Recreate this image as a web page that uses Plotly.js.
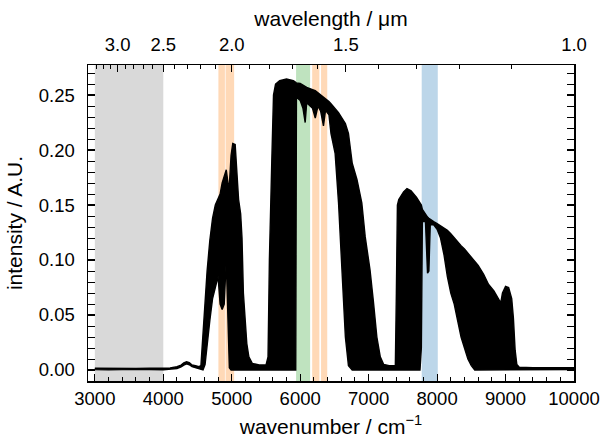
<!DOCTYPE html>
<html>
<head>
<meta charset="utf-8">
<script src="https://cdn.plot.ly/plotly-3.0.1.min.js"></script>
<style>html,body{margin:0;padding:0;background:#fff;}#chart{width:601px;height:441px;}</style>
</head>
<body>
<div id="chart"></div>
<script>
// Wavenumber grid (cm^-1) and the upper / lower envelope of the dense spectrum trace
const wavenumber = [3000,3200,3400,3600,3800,4000,4100,4200,4260,4300,4340,4380,4420,4470,4520,4550,4580,4610,4640,4680,4720,4760,4800,4830,4860,4890,4920,4945,4965,4990,5015,5050,5080,5100,5130,5150,5170,5200,5220,5250,5270,5300,5400,5500,5530,5550,5585,5610,5640,5700,5800,5900,5935,5945,6000,6040,6073,6095,6180,6220,6260,6300,6340,6370,6420,6450,6510,6560,6610,6660,6705,6760,6830,6900,6950,7020,7070,7120,7170,7220,7300,7390,7405,7420,7440,7510,7560,7620,7700,7750,7770,7785,7830,7860,7880,7900,7950,8000,8050,8100,8150,8200,8250,8300,8350,8400,8450,8500,8550,8600,8680,8750,8830,8880,8930,8955,9000,9045,9090,9115,9140,9165,9200,9400,9600,9800,10000];
const upperIntensity = [0.0016,0.0014,0.0016,0.0013,0.0016,0.0014,0.0018,0.0030,0.0045,0.0065,0.0075,0.0068,0.0045,0.0040,0.0030,0.0040,0.0350,0.0650,0.0900,0.1180,0.1380,0.1500,0.1550,0.1600,0.1700,0.1760,0.1820,0.1700,0.1680,0.1950,0.2060,0.2050,0.1750,0.1550,0.1420,0.1200,0.0700,0.0400,0.0240,0.0120,0.0090,0.0060,0.0045,0.0045,0.0120,0.1000,0.1900,0.2500,0.2600,0.2630,0.2645,0.2630,0.2615,0.2610,0.2605,0.2590,0.2580,0.2570,0.2550,0.2540,0.2520,0.2500,0.2480,0.2470,0.2440,0.2420,0.2380,0.2340,0.2290,0.2240,0.2150,0.1880,0.1730,0.1520,0.1210,0.0910,0.0620,0.0300,0.0120,0.0050,0.0040,0.0040,0.0700,0.1500,0.1550,0.1620,0.1650,0.1630,0.1570,0.1520,0.1500,0.1460,0.1410,0.1390,0.1380,0.1370,0.1350,0.1330,0.1310,0.1290,0.1270,0.1240,0.1200,0.1170,0.1130,0.1100,0.1060,0.1020,0.0990,0.0950,0.0870,0.0780,0.0720,0.0660,0.0610,0.0700,0.0760,0.0750,0.0650,0.0470,0.0180,0.0050,0.0025,0.0020,0.0022,0.0020,0.0020];
const lowerIntensity = [0.0004,0.0002,0.0004,0.0001,0.0004,0.0002,0.0006,0.0014,0.0028,0.0045,0.0055,0.0048,0.0030,0.0020,0.0010,0.0005,0.0000,0.0050,0.0200,0.0450,0.0650,0.0750,0.0850,0.0600,0.0550,0.0600,0.1000,0.0500,0.0020,0.0000,0.0000,0.0000,0.0000,0.0000,0.0000,0.0000,0.0000,0.0000,0.0000,0.0000,0.0000,0.0000,0.0000,0.0000,0.0000,0.0000,0.0000,0.0000,0.0000,0.0000,0.0000,0.0000,0.0000,0.2480,0.2450,0.2380,0.2250,0.2430,0.2380,0.2290,0.2400,0.2350,0.2220,0.2360,0.2320,0.2150,0.1970,0.1520,0.0910,0.0300,0.0040,0.0000,0.0000,0.0000,0.0000,0.0000,0.0000,0.0000,0.0000,0.0000,0.0000,0.0000,0.0000,0.0000,0.0000,0.0000,0.0000,0.0000,0.0000,0.0000,0.0200,0.1350,0.1350,0.0880,0.0900,0.1320,0.1320,0.1280,0.1200,0.1050,0.0850,0.0700,0.0600,0.0450,0.0300,0.0200,0.0100,0.0040,0.0000,0.0000,0.0000,0.0000,0.0000,0.0000,0.0000,0.0000,0.0000,0.0000,0.0000,0.0000,0.0000,0.0000,0.0005,0.0005,0.0005,0.0005,0.0005];

// Highlighted spectral windows (cm^-1)
const bandStart = [3000, 4805, 4910, 5940, 6175, 6305, 7775];
const bandEnd   = [4000, 4900, 5035, 6145, 6280, 6395, 8010];
const bandKind  = ['gray','orange','orange','green','orange','orange','blue'];

// Top axis: wavelength ticks (µm)
const wavelengthMajor = [3.0, 2.5, 2.0, 1.5, 1.0];
const wavelengthMinor = [3.3,3.2,3.1,2.9,2.8,2.7,2.6,2.4,2.3,2.2,2.1,1.9,1.8,1.7,1.6,1.4,1.3,1.2,1.1];

const bandColors = {gray:'#d9d9d9', orange:'#ffd9b7', green:'#bfe3bf', blue:'#bcd6e9'};

const polyX = wavenumber.concat(wavenumber.slice().reverse());
const polyY = upperIntensity.concat(lowerIntensity.slice().reverse());

const traces = [
  {x: polyX, y: polyY, type:'scatter', mode:'lines', fill:'toself', fillcolor:'#000',
   line:{color:'#000', width:1.4}, showlegend:false, hoverinfo:'skip'},
  {x: [], y: [], xaxis:'x2', yaxis:'y', type:'scatter', mode:'lines', showlegend:false, hoverinfo:'skip'}
];

const shapes = bandStart.map((s,i)=>({type:'rect', xref:'x', yref:'paper', x0:s, x1:bandEnd[i], y0:0, y1:1,
  fillcolor:bandColors[bandKind[i]], line:{width:0}, layer:'below'}));

const font = {family:'"Liberation Sans", Arial, sans-serif', color:'#000'};
const tickFont = Object.assign({}, font, {size:18.5});
const titleFont = Object.assign({}, font, {size:21});

const layout = {
  width:601, height:441,
  margin:{l:88, r:27, t:65, b:60, pad:0},
  paper_bgcolor:'#fff', plot_bgcolor:'#fff',
  font: font,
  shapes: shapes,
  xaxis:{range:[2900,10000], tickmode:'linear', tick0:0, dtick:1000, tickformat:'d', ticks:'inside', ticklen:7, tickwidth:1.2, tickcolor:'#000',
    minor:{dtick:200, tick0:0, ticks:'inside', ticklen:4, tickwidth:1, tickcolor:'#000'},
    showline:true, linecolor:'#000', linewidth:1.5, mirror:false, showgrid:false, zeroline:false,
    tickfont:tickFont, ticklabelstandoff:0,
    title:{text:'wavenumber / cm<sup>−1</sup>', font:titleFont, standoff:11}},
  xaxis2:{overlaying:'x', side:'top', anchor:'y', range:[2900,10000], tickmode:'array',
    tickvals: wavelengthMajor.map(w=>1e4/w), ticktext: wavelengthMajor.map(w=>w.toFixed(1)),
    ticks:'inside', ticklen:7, tickwidth:1.2, tickcolor:'#000',
    minor:{tickmode:'array', tickvals: wavelengthMinor.map(w=>1e4/w), ticks:'inside', ticklen:4, tickwidth:1, tickcolor:'#000'},
    showline:true, linecolor:'#000', linewidth:1.5, showgrid:false, zeroline:false,
    tickfont:tickFont, ticklabelstandoff:5,
    title:{text:'wavelength / μm', font:titleFont, standoff:1}},
  yaxis:{range:[-0.0100,0.2773], tickmode:'linear', tick0:0, dtick:0.05, tickformat:'.2f',
    ticks:'inside', ticklen:7, tickwidth:1.2, tickcolor:'#000',
    minor:{dtick:0.01, tick0:0, ticks:'inside', ticklen:4, tickwidth:1, tickcolor:'#000'},
    showline:true, linecolor:'#000', linewidth:1.5, mirror:'allticks', showgrid:false, zeroline:false,
    tickfont:tickFont, ticklabelstandoff:8,
    title:{text:'intensity / A.U.', font:titleFont, standoff:10}}
};

Plotly.newPlot('chart', traces, layout, {staticPlot:true, displayModeBar:false});
</script>
</body>
</html>
